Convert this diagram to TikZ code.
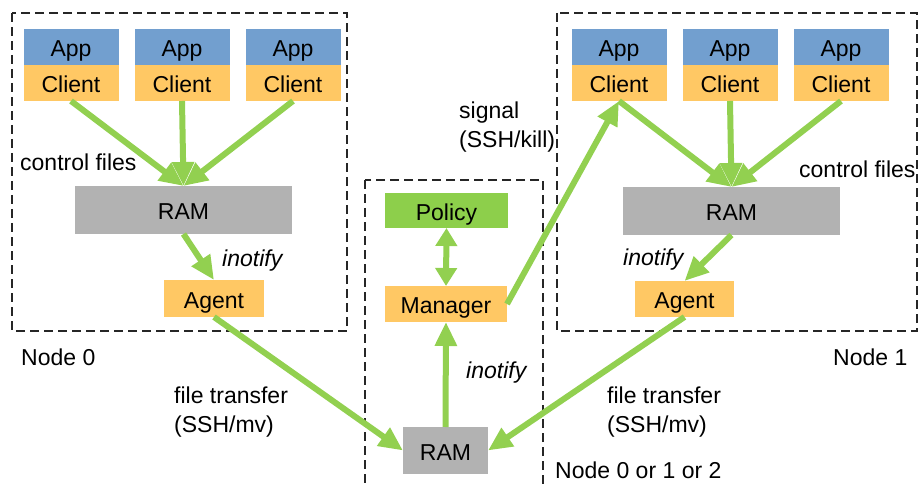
\documentclass[tikz,border=0pt]{standalone}
\usepackage{fontspec}
\setmainfont{Liberation Sans}
\usetikzlibrary{arrows.meta}
\definecolor{appblue}{HTML}{729FCF}
\definecolor{clientorange}{HTML}{FFC864}
\definecolor{arrowgreen}{HTML}{92D050}
\definecolor{policygreen}{HTML}{8DCF4B}
\definecolor{ramgray}{HTML}{B2B2B2}
\begin{document}
\begin{tikzpicture}[x=1pt,y=-1pt,
  font=\fontsize{23}{27}\selectfont,
  box/.style={draw=none,inner sep=0pt,outer sep=0pt,text height=19.5pt,text depth=0pt},
  appbox/.style={box,fill=appblue,minimum width=95pt,minimum height=36pt},
  clientbox/.style={box,fill=clientorange,minimum width=95pt,minimum height=36pt},
  rambox/.style={box,fill=ramgray},
  orangebox/.style={box,fill=clientorange},
  flow/.style={draw=arrowgreen,line width=6pt,-{Triangle[width=21pt,length=24pt]}},
  biflow/.style={draw=arrowgreen,line width=6pt,{Triangle[width=21pt,length=18pt]}-{Triangle[width=21pt,length=18pt]}},
  region/.style={draw=black!85,line width=1.6pt,dash pattern=on 9pt off 5pt},
  lbl/.style={inner sep=0pt,anchor=west,align=left},
  itlbl/.style={lbl,font=\fontsize{23}{27}\selectfont\itshape},
  twolbl/.style={lbl,font=\fontsize{23}{29}\selectfont}
]
\useasboundingbox (0,0) rectangle (919,484);
\begin{scope}
\clip (0,0) rectangle (919,484);
% regions
\draw[region] (12,13) rectangle (347,331);
\draw[region] (365,180) rectangle (543,488);
\draw[region] (557,13) rectangle (917,331);

% Node 0
\node[appbox] (a01) at (71,47) {App};
\node[clientbox] (c01) at (71,83) {Client};
\node[appbox] (a02) at (182,47) {App};
\node[clientbox] (c02) at (182,83) {Client};
\node[appbox] (a03) at (293,47) {App};
\node[clientbox] (c03) at (293,83) {Client};
\node[rambox,minimum width=217pt,minimum height=48pt] (ram0) at (183.5,210) {RAM};
\node[orangebox,minimum width=100pt,minimum height=37pt] (agent0) at (214,298.5) {Agent};

% Node 1
\node[appbox] (a11) at (619,47) {App};
\node[clientbox] (c11) at (619,83) {Client};
\node[appbox] (a12) at (730,47) {App};
\node[clientbox] (c12) at (730,83) {Client};
\node[appbox] (a13) at (841,47) {App};
\node[clientbox] (c13) at (841,83) {Client};
\node[rambox,minimum width=217pt,minimum height=48pt] (ram1) at (731.5,211) {RAM};
\node[orangebox,minimum width=99pt,minimum height=36pt] (agent1) at (684.5,299) {Agent};

% Center
\node[box,fill=policygreen,minimum width=123pt,minimum height=35pt] (policy) at (446.5,210.5) {Policy};
\node[orangebox,minimum width=122pt,minimum height=36pt] (manager) at (446,304) {Manager};
\node[rambox,minimum width=85pt,minimum height=47pt] (ramc) at (445.5,450.5) {RAM};

% arrows Node 0
\draw[flow] (c01.south) -- (ram0.north);
\draw[flow] (c02.south) -- (ram0.north);
\draw[flow] (c03.south) -- (ram0.north);
\draw[flow] (ram0.south) -- (agent0.north);
\draw[flow] (agent0.south) -- (ramc.west);

% arrows Node 1
\draw[flow] (c11.south) -- (ram1.north);
\draw[flow] (c12.south) -- (ram1.north);
\draw[flow] (c13.south) -- (ram1.north);
\draw[flow] (ram1.south) -- (agent1.north);
\draw[flow] (agent1.south) -- (ramc.east);

% center arrows
\draw[flow] (ramc.north) -- (manager.south);
\draw[biflow] (policy.south) -- (manager.north);
\draw[flow] (manager.east) -- (c11.south);

% labels
\node[lbl] (cf0) at (20,162) {control files};
\node[lbl] (cf1) at (799,169) {control files};
\node[itlbl] (in0) at (222,261) {inotify};
\node[itlbl] (in1) at (623,260) {inotify};
\node[itlbl] (inc) at (466,373) {inotify};
\node[twolbl] (sig) at (459,127) {signal\\(SSH/kill)};
\node[twolbl] (ft0) at (174,412) {file transfer\\(SSH/mv)};
\node[twolbl] (ft1) at (607,412) {file transfer\\(SSH/mv)};
\node[lbl] (n0) at (21,357) {Node 0};
\node[lbl] (n1) at (833,357) {Node 1};
\node[lbl] (n2) at (555,470) {Node 0 or 1 or 2};
\end{scope}
\end{tikzpicture}
\end{document}
